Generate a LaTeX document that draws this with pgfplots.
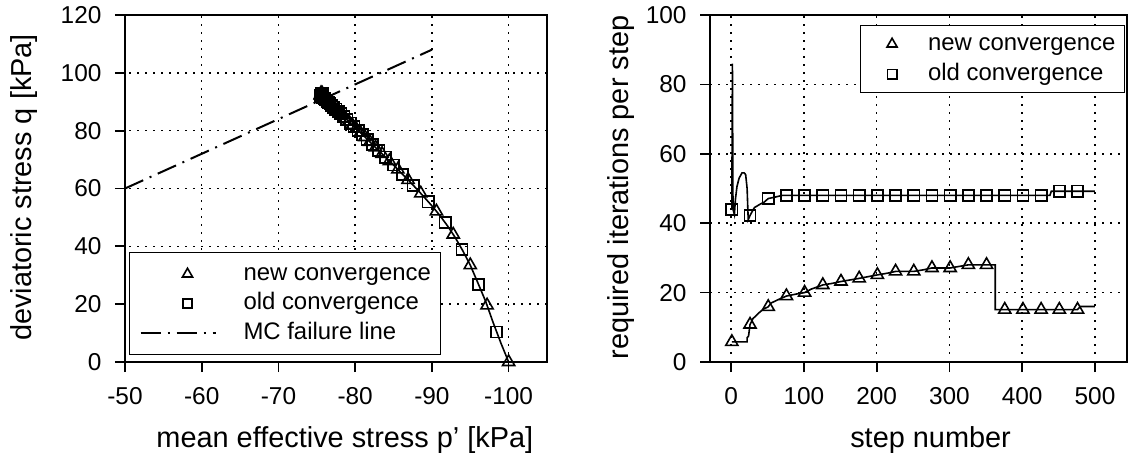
\documentclass[border=0pt]{standalone}
\usepackage{fontspec}
\setmainfont{Liberation Sans}
\usepackage{pgfplots}
\pgfplotsset{compat=1.18}
\pgfplotsset{
 common/.style={
  scale only axis, height=347bp,
  axis line style={line width=1.7bp, black},
  tick align=outside,
  xtick pos=left, ytick pos=left,
  major tick length=10bp,
  every tick/.style={line width=1.7bp, black},
  xmajorgrids, ymajorgrids,
  major grid style={line width=1.5bp, dash pattern=on 1.5bp off 6.5bp, black},
  tick label style={font=\fontsize{24.5}{28}\selectfont},
  xticklabel style={yshift=-12bp},
  yticklabel style={xshift=-10bp},
  label style={font=\fontsize{29}{34}\selectfont},
  /pgf/number format/assume math mode=true,
  legend cell align=left,
  legend style={draw=black, line width=1bp, font=\fontsize{24}{28}\selectfont,
    nodes={inner sep=0pt, text height=17bp, text depth=5bp}, cells={anchor=west}},
 },
 tri/.style={only marks, mark=triangle, mark size=7bp, mark options={line width=1.6bp, black, solid}},
 sqr/.style={only marks, mark=square, mark size=5.6bp, mark options={line width=1.6bp, black, solid}},
 legtriL/.style={legend image code/.code={\path[draw=none] (0bp,0bp) -- (75bp,0bp); \draw[##1,/tikz/only marks, mark size=5.8bp, mark options={line width=1.6bp}] plot coordinates {(47bp,0bp)};}},
 legsqrL/.style={legend image code/.code={\path[draw=none] (0bp,0bp) -- (75bp,0bp); \draw[##1,/tikz/only marks, mark size=4.7bp, mark options={line width=1.6bp}] plot coordinates {(47bp,0bp)};}},
 leglineL/.style={legend image code/.code={\draw[##1] (0bp,0bp) -- (75bp,0bp);}},
 legtriR/.style={legend image code/.code={\path[draw=none] (0bp,0bp) -- (46bp,0bp); \draw[##1,/tikz/only marks, mark size=5.8bp, mark options={line width=1.6bp}] plot coordinates {(23bp,0bp)};}},
 legsqrR/.style={legend image code/.code={\path[draw=none] (0bp,0bp) -- (46bp,0bp); \draw[##1,/tikz/only marks, mark size=4.7bp, mark options={line width=1.6bp}] plot coordinates {(23bp,0bp)};}},
}
\begin{document}
\begin{tikzpicture}
\path[use as bounding box] (0bp,0bp) rectangle (1133bp,461bp);
% ---------------- left axis ----------------
\begin{axis}[common, at={(125bp,99bp)}, anchor=south west, width=422bp,
 xmin=-105, xmax=-50, x dir=reverse, ymin=0, ymax=120,
 xtick={-100,-90,-80,-70,-60,-50}, ytick={0,20,...,120},
 xlabel={mean effective stress p' [kPa]}, ylabel={deviatoric stress q [kPa]},
 xlabel style={at={(axis description cs:0.521,-0.2478)}, anchor=base},
 ylabel style={at={(axis description cs:-0.2227,0.503)}, anchor=base},
 legend style={at={(axis description cs:0.0095,0.02)}, anchor=south west,
   inner xsep=10bp, inner ysep=10.5bp, row sep=7.5bp, column sep=27bp},
]
\addplot[forget plot, line width=1.6bp, black] coordinates {
(-100,0) (-99,6.5) (-98,13.5) (-97,21) (-96,27.3) (-95,33.5) (-94,38.6) (-93,43.2)
(-92,47.2) (-91,50.8) (-90,54) (-89,57) (-88,59.9) (-87,62.7) (-86,65.4) (-85,68.1)
(-84,70.7) (-83,73.3) (-82,75.9) (-81,78.5) (-80,81) (-79,83.6) (-78,86.1) (-77,88.6)
(-76,91) (-75.5,92.2)};
\addplot[tri, legtriL] coordinates {
(-100,0) (-97.19,19.6) (-95.0,33.5) (-92.78,44.1) (-90.59,52.1) (-88.55,58.3) (-86.89,63.0)
(-85.56,66.6) (-84.46,69.5) (-83.5,72.0) (-82.65,74.2) (-81.92,76.1) (-81.27,77.8) (-80.68,79.3)
(-80.12,80.7) (-79.62,82.0) (-79.15,83.2) (-78.72,84.3) (-78.32,85.3) (-77.96,86.2) (-77.64,87.0)
(-77.36,87.7) (-77.08,88.4) (-76.83,89.0) (-76.63,89.5) (-76.42,90.0) (-76.25,90.4) (-76.08,90.8)
(-75.96,91.1) (-75.83,91.4) (-75.75,91.6) (-75.67,91.8) (-75.58,92.0)
(-75.52,92.1) (-75.48,92.2) (-75.45,92.3) (-75.6,92.6) (-75.7,92.9) (-75.55,93.0)};
\addlegendentry{new convergence}
\addplot[sqr, legsqrL] coordinates {
(-98.44,10.4) (-96.08,26.8) (-93.93,38.9) (-91.72,48.2) (-89.53,55.4) (-87.57,61.1) (-86.19,64.9)
(-85.0,68.1) (-83.96,70.8) (-83.08,73.1) (-82.27,75.2) (-81.58,77.0) (-80.96,78.6) (-80.4,80.0)
(-79.85,81.4) (-79.38,82.6) (-78.92,83.8) (-78.52,84.8) (-78.12,85.8) (-77.8,86.6) (-77.48,87.4)
(-77.2,88.1) (-76.96,88.7) (-76.71,89.3) (-76.5,89.8) (-76.33,90.2) (-76.17,90.6) (-76.0,91.0)
(-75.875,91.3) (-75.79,91.5) (-75.71,91.7) (-75.625,91.9) (-75.54,92.1)
(-75.5,92.2) (-75.45,92.3) (-75.6,92.5) (-75.7,92.7) (-75.8,92.8) (-75.6,93.0)};
\addlegendentry{old convergence}
\addplot[black, line width=2bp, dash pattern=on 20bp off 7bp on 2bp off 7bp, leglineL]
  coordinates {(-50,60) (-90,108)};
\addlegendentry{MC failure line}
\end{axis}
% ---------------- right axis ----------------
\begin{axis}[common, at={(710bp,99bp)}, anchor=south west, width=417bp,
 xmin=-29, xmax=544, ymin=0, ymax=100,
 xtick={0,100,...,500}, ytick={0,20,...,100},
 xlabel={step number}, ylabel={required iterations per step},
 xlabel style={at={(axis description cs:0.529,-0.2478)}, anchor=base},
 ylabel style={at={(axis description cs:-0.1966,0.503)}, anchor=base},
 legend style={at={(axis description cs:0.9952,0.971)}, anchor=north east,
   inner xsep=9bp, inner ysep=7.5bp, row sep=8bp, column sep=13bp},
]
\addplot[forget plot, line width=1.6bp, black] coordinates {
(1,5.8) (22,5.8) (22,7) (24,7.5) (26,10.8) (30,12.5) (35,13.5) (40,14.5) (45,15.3) (51,15.9)
(55,17) (65,18) (76,19) (90,19.6) (101,20) (110,21) (126,22.2) (140,22.7) (151,23.2) (176,24.1)
(201,25.1) (215,25.6) (226,26.1) (251,26.1) (265,26.6) (276,27.1) (301,27.1) (315,27.6) (326,28)
(363,28) (363,15.1) (476,15.1) (480,16) (500,16)};
\addplot[forget plot, line width=1.6bp, black] coordinates {
(1,44) (1.8,86) (2.6,44) (4.5,42.5) (6,47) (8,50.5) (11,53) (15,54.5) (18,54.5) (20,54) (22,50)
(23,44) (23.5,41) (26,42.2) (28,43) (32,44.5) (40,45.5) (45,46) (51,47.1) (60,47.5) (70,48)
(438,48) (440,49.2) (500,49.2)};
\addplot[tri, legtriR] coordinates {
(1,5.8) (26,10.8) (51,15.9) (76,19) (101,20) (126,22.2) (151,23.2) (176,24.1) (201,25.1) (226,26.1)
(251,26.1) (276,27.1) (301,27.1) (326,28) (351,28) (376,15.1) (401,15.1) (426,15.1) (451,15.1) (476,15.1)};
\addlegendentry{new convergence}
\addplot[sqr, legsqrR] coordinates {
(1,44) (26,42.2) (51,47.1) (76,48) (101,48) (126,48) (151,48) (176,48) (201,48) (226,48)
(251,48) (276,48) (301,48) (326,48) (351,48) (376,48) (401,48) (426,48) (451,49.2) (476,49.2)};
\addlegendentry{old convergence}
\end{axis}
\end{tikzpicture}
\end{document}
